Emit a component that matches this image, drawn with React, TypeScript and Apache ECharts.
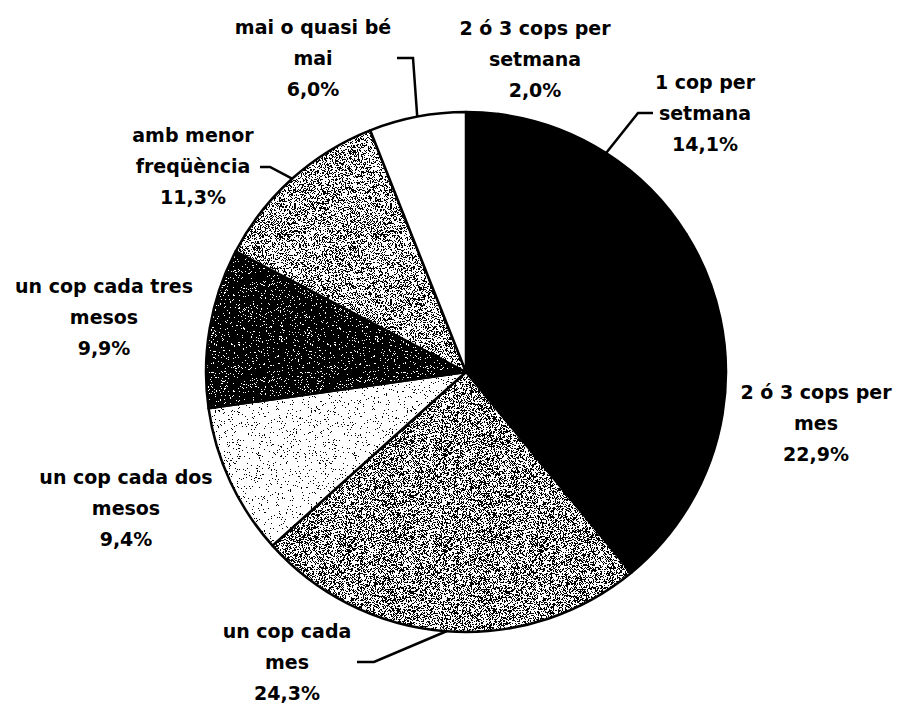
import React, { useEffect, useRef } from 'react';
import * as echarts from 'echarts';

// ---- data ----
const categories: string[] = [
  '2 ó 3 cops per\nsetmana',
  '1 cop per\nsetmana',
  '2 ó 3 cops per\nmes',
  'un cop cada\nmes',
  'un cop cada dos\nmesos',
  'un cop cada tres\nmesos',
  'amb menor\nfreqüència',
  'mai o quasi bé\nmai',
];
const percentages: number[] = [2.0, 14.1, 22.9, 24.3, 9.4, 9.9, 11.3, 6.0];

// ---- styling / layout (not data) ----
// stipple density (fraction of black pixels) per slice: 1 = solid black, 0 = white
const stippleDensity: number[] = [1, 1, 1, 0.42, 0.06, 0.92, 0.36, 0];
const labelCenters: [number, number][] = [
  [535, 59],
  [705, 113],
  [816, 423],
  [287, 662],
  [126, 508],
  [104, 317],
  [193, 166],
  [313, 58],
];
const leaderElbows: ([number, number][] | null)[] = [
  null,
  [[638, 113], [653, 113]],
  null,
  [[374, 662], [357, 662]],
  null,
  null,
  [[270, 167], [260, 167]],
  [[413, 58], [397, 58]],
];
const CX = 466;
const CY = 372;
const R = 260;

function stipple(density: number, seed: number, size = 96): HTMLCanvasElement {
  const c = document.createElement('canvas');
  c.width = size;
  c.height = size;
  const ctx = c.getContext('2d')!;
  const img = ctx.createImageData(size, size);
  let s = seed >>> 0;
  for (let i = 0; i < size * size; i++) {
    s = (Math.imul(s, 1664525) + 1013904223) >>> 0;
    const v = (s >>> 8) / 16777216;
    const val = v < density ? 0 : 255;
    img.data[i * 4] = val;
    img.data[i * 4 + 1] = val;
    img.data[i * 4 + 2] = val;
    img.data[i * 4 + 3] = 255;
  }
  ctx.putImageData(img, 0, 0);
  return c;
}

function fillFor(i: number): any {
  const d = stippleDensity[i];
  if (d >= 1) return '#000000';
  if (d <= 0) return '#ffffff';
  return { image: stipple(d, 12345 + i * 977), repeat: 'repeat', imageWidth: 96, imageHeight: 96 };
}

export default function App() {
  const ref = useRef<HTMLDivElement>(null);
  useEffect(() => {
    if (!ref.current) return;
    const chart = echarts.init(ref.current, null, { renderer: 'svg' });
    const total = percentages.reduce((a, b) => a + b, 0);
    const edgePoint = (i: number): [number, number] => {
      let before = 0;
      for (let k = 0; k < i; k++) before += percentages[k];
      const theta = ((before + percentages[i] / 2) / total) * Math.PI * 2;
      return [CX + R * Math.sin(theta), CY - R * Math.cos(theta)];
    };
    chart.setOption({
      animation: false,
      backgroundColor: '#ffffff',
      series: [
        {
          type: 'pie',
          center: [CX, CY],
          radius: R,
          startAngle: 90,
          clockwise: true,
          avoidLabelOverlap: false,
          itemStyle: { borderColor: '#000', borderWidth: 2.5 },
          emphasis: { disabled: true },
          label: {
            show: true,
            position: 'outside',
            fontFamily: 'DejaVu Sans',
            fontWeight: 'bold',
            fontSize: 19,
            lineHeight: 31,
            color: '#000',
            align: 'center',
            formatter: (p: any) => `${p.name}\n${Number(p.value).toFixed(1).replace('.', ',')}%`,
          },
          labelLine: { show: true, lineStyle: { color: '#000', width: 2.5 } },
          labelLayout: (params: any) => {
            const i = params.dataIndex;
            const [x, y] = labelCenters[i];
            const res: any = { x, y, align: 'center', verticalAlign: 'middle' };
            const elbow = leaderElbows[i];
            if (elbow) res.labelLinePoints = [edgePoint(i), elbow[0], elbow[1]];
            return res;
          },
          data: categories.map((name, i) => ({
            name,
            value: percentages[i],
            itemStyle: { color: fillFor(i) },
            labelLine: { show: leaderElbows[i] != null },
          })),
        },
      ],
    });
    return () => chart.dispose();
  }, []);
  return (
    <div
      ref={ref}
      style={{ position: 'fixed', left: 0, top: 0, width: 899, height: 703, background: '#fff' }}
    />
  );
}
